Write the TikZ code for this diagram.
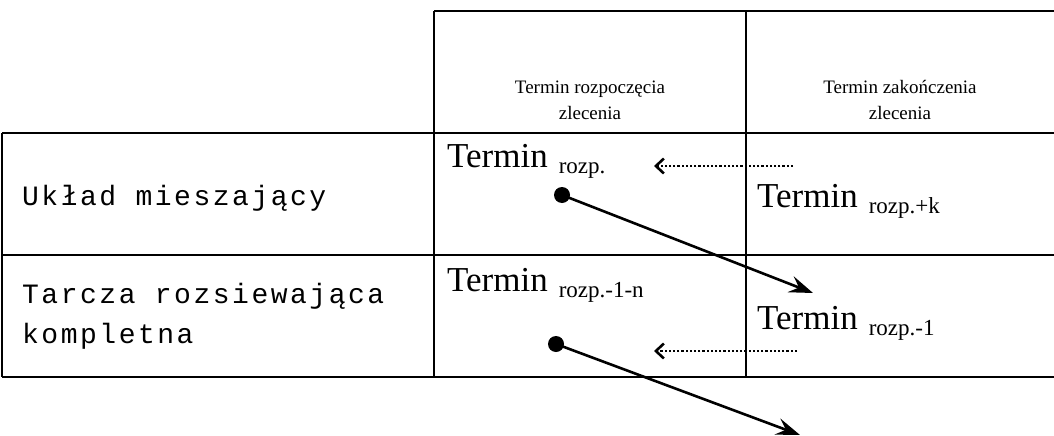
\documentclass[tikz,border=0pt]{standalone}
\usepackage{fontspec}
\setmainfont{Liberation Serif}
\newfontfamily\courfont[LetterSpace=9]{Liberation Mono}
\usetikzlibrary{arrows.meta}
\tikzset{
  grid/.style={line width=2.8pt},
  hdr/.style={font=\fontsize{19}{26}\selectfont, align=center, inner sep=0pt},
  rowlbl/.style={font=\courfont\fontsize{28}{34}\selectfont, inner sep=0pt, anchor=base west},
  term/.style={inner sep=0pt, anchor=base west},
  dotnode/.style={circle, fill=black, inner sep=0pt, minimum size=16pt},
  moveline/.style={line width=2.6pt, -{Stealth[length=24pt, width=17pt, inset=9pt]}},
  backline/.style={line width=2.2pt, dotted, -{Straight Barb[length=8pt, width=15pt, line width=2.6pt]}},
}
\newcommand{\termtxt}[1]{{\fontsize{35}{40}\selectfont Termin}\hspace{11pt}\raisebox{-6pt}{\fontsize{23}{26}\selectfont #1}}
\begin{document}
\begin{tikzpicture}[x=1pt,y=-1pt]
\useasboundingbox (0,0) rectangle (1054,436);
% grid
\draw[grid] (434,11) -- (1054,11);
\draw[grid] (2,133) -- (1054,133);
\draw[grid] (2,255) -- (1054,255);
\draw[grid] (2,377) -- (1054,377);
\draw[grid] (2,133) -- (2,377);
\draw[grid] (434,11) -- (434,377);
\draw[grid] (746,11) -- (746,377);
% headers
\node[hdr] (h1) at (590,100) {Termin rozpoczęcia\\zlecenia};
\node[hdr] (h2) at (900,100) {Termin zakończenia\\zlecenia};
% row labels
\node[rowlbl] (r1) at (22,205) {Układ mieszający};
\node[rowlbl] (r2) at (22,303) {Tarcza rozsiewająca};
\node[rowlbl] (r3) at (22,343) {kompletna};
% terms
\node[term] (t1) at (447,167) {\termtxt{rozp.}};
\node[term] (t2) at (757,207) {\termtxt{rozp.+k}};
\node[term] (t3) at (447,291) {\termtxt{rozp.-1-n}};
\node[term] (t4) at (757,329) {\termtxt{rozp.-1}};
% dots
\node[dotnode] (d1) at (562,195) {};
\node[dotnode] (d2) at (556,344) {};
\coordinate (e1) at (813,293);
\coordinate (e2) at (800,435);
\draw[moveline] (d1.center) -- (e1);
\draw[moveline] (d2.center) -- (e2);
% dotted back arrows
\coordinate (b1s) at (793,166);
\coordinate (b1e) at (654,166);
\coordinate (b2s) at (797,351);
\coordinate (b2e) at (654,351);
\draw[backline] (b1s) -- (b1e);
\draw[backline] (b2s) -- (b2e);
\end{tikzpicture}
\end{document}
